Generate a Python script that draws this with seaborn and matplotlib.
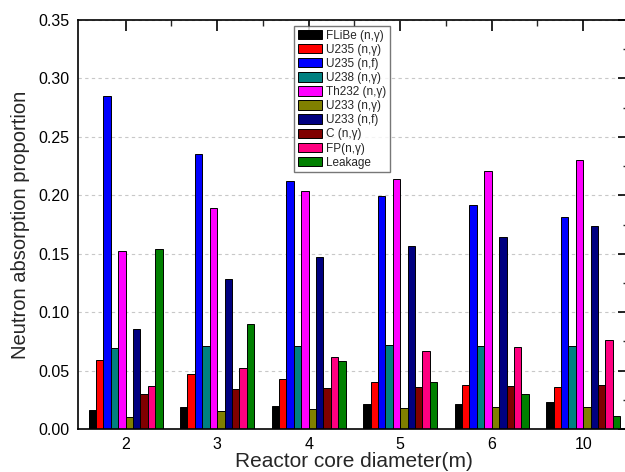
import matplotlib
matplotlib.use("Agg")
import matplotlib.pyplot as plt
from matplotlib.ticker import MultipleLocator, FixedLocator
import numpy as np
import pandas as pd
import seaborn as sns

diameters = ["2", "3", "4", "5", "6", "10"]
reactions = ["FLiBe (n,\u03b3)", "U235 (n,\u03b3)", "U235 (n,f)", "U238 (n,\u03b3)",
             "Th232 (n,\u03b3)", "U233 (n,\u03b3)", "U233 (n,f)", "C (n,\u03b3)",
             "FP(n,\u03b3)", "Leakage"]

flibe_ng = [0.016, 0.019, 0.020, 0.021, 0.021, 0.023]
u235_ng = [0.059, 0.047, 0.043, 0.040, 0.038, 0.036]
u235_nf = [0.285, 0.235, 0.212, 0.199, 0.192, 0.181]
u238_ng = [0.069, 0.071, 0.071, 0.072, 0.071, 0.071]
th232_ng = [0.152, 0.189, 0.204, 0.214, 0.221, 0.230]
u233_ng = [0.010, 0.015, 0.017, 0.018, 0.019, 0.019]
u233_nf = [0.086, 0.128, 0.147, 0.157, 0.164, 0.174]
c_ng = [0.030, 0.034, 0.035, 0.036, 0.037, 0.038]
fp_ng = [0.037, 0.052, 0.062, 0.067, 0.070, 0.076]
leakage = [0.154, 0.090, 0.058, 0.040, 0.030, 0.011]

series = [flibe_ng, u235_ng, u235_nf, u238_ng, th232_ng,
          u233_ng, u233_nf, c_ng, fp_ng, leakage]

colors = ["#000000", "#ff0000", "#0000ff", "#008080", "#ff00ff",
          "#808000", "#000080", "#800000", "#ff0080", "#008000"]

rows = []
for name, vals in zip(reactions, series):
    for d, v in zip(diameters, vals):
        rows.append({"diameter": d, "reaction": name, "value": v})
df = pd.DataFrame(rows)

sns.set_style("white")
plt.rcParams["font.family"] = ["Liberation Sans", "DejaVu Sans"]

fig = plt.figure(figsize=(6.25, 4.72), dpi=100)
ax = fig.add_axes([0.1248, 0.0911, 0.8816, 0.8665])

sns.barplot(data=df, x="diameter", y="value", hue="reaction",
            order=diameters, hue_order=reactions, palette=colors,
            width=0.81, edgecolor="black", linewidth=0.7, saturation=1,
            errorbar=None, ax=ax)

ax.set_xlim(-0.52, 5.5)
ax.set_ylim(0, 0.35)
ax.yaxis.set_minor_locator(MultipleLocator(0.025))
ax.xaxis.set_minor_locator(FixedLocator(np.arange(0.5, 5.5, 1.0)))
yticks = np.arange(0, 0.351, 0.05)
ax.set_yticks(yticks)
ax.set_yticklabels([f"{t:.2f}" for t in yticks])

ax.grid(axis="y", which="major", linestyle=(0, (3, 3)), color="#c8c8c8", linewidth=0.8)
ax.set_axisbelow(True)

ax.tick_params(axis="both", which="major", direction="in", length=8, width=1.2,
               top=True, right=True, labelsize=11.5, colors="black", pad=6)
ax.tick_params(axis="both", which="minor", direction="in", length=4, width=1.0,
               top=True, right=True)
ax.tick_params(axis="x", which="major", bottom=False, pad=6)
for s in ax.spines.values():
    s.set_color("black")
    s.set_linewidth(1.2)

ax.set_xlabel("Reactor core diameter(m)", fontsize=15, labelpad=0)
ax.set_ylabel("Neutron absorption proportion", fontsize=14.5, labelpad=6)

leg = ax.legend(loc="upper left", bbox_to_anchor=(294 / 625, 1 - 26 / 472),
                bbox_transform=fig.transFigure, fontsize=8.5, frameon=True,
                fancybox=False, edgecolor="#555555", borderpad=0.3,
                labelspacing=0.18, handlelength=2.1, handleheight=0.85,
                handletextpad=0.35, borderaxespad=0)
leg.get_frame().set_linewidth(1.0)

fig.savefig("out.png", dpi=100)
